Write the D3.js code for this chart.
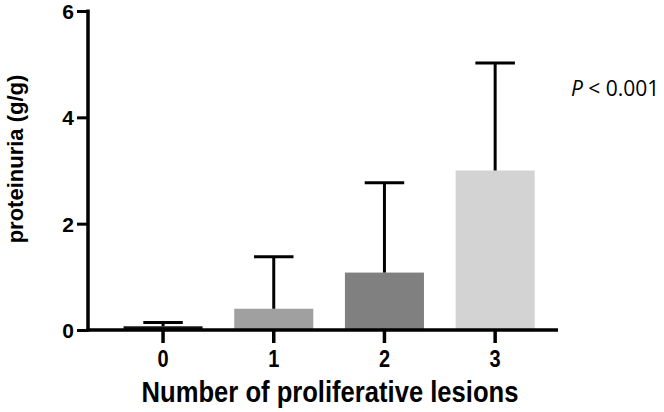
<!DOCTYPE html>
<html><head><meta charset="utf-8">
<script src="https://cdn.jsdelivr.net/npm/d3@7"></script>
<style>body{margin:0;background:#fff}svg{display:block}</style>
</head><body><svg id="c" width="664" height="412"></svg>
<script>
const categories = ["0","1","2","3"];
const means = [0.07, 0.4, 1.08, 3.0];
const errTops = [0.14, 1.38, 2.77, 5.02];
const colors = ["#111111","#a0a0a0","#808080","#d3d3d3"];
const yTicks = [0,2,4,6];

const svg = d3.select("#c");
const font = "'Liberation Sans', Arial, sans-serif";
const stretch = 1.15;
const y = d3.scaleLinear().domain([0,6]).range([330,11]);
const x = d3.scaleBand().domain(categories).range([107.7,550.5]).paddingInner(0.286).paddingOuter(0.143);

// bars
svg.selectAll("rect.bar").data(categories).enter().append("rect")
  .attr("x", d=>x(d)).attr("width", x.bandwidth())
  .attr("y", (d,i)=>y(means[i])).attr("height",(d,i)=>y(0)-y(means[i]))
  .attr("fill",(d,i)=>colors[i]);

// error bars
const cap = x.bandwidth()/2;
const eg = svg.append("g").attr("stroke","#000").attr("stroke-width",3);
categories.forEach((d,i)=>{
  const cx = x(d)+x.bandwidth()/2;
  eg.append("line").attr("x1",cx).attr("x2",cx).attr("y1",y(means[i])).attr("y2",y(errTops[i]));
  eg.append("line").attr("x1",cx-cap/2).attr("x2",cx+cap/2).attr("y1",y(errTops[i])).attr("y2",y(errTops[i]));
});

// y axis
const ya = svg.append("g").attr("transform","translate(88,0)")
  .call(d3.axisLeft(y).tickValues(yTicks).tickSize(11).tickFormat(""));
ya.select(".domain").attr("stroke-width",3.5).attr("d","M0,"+(y(0)+1.5)+"V"+(y(6)-1.5));
ya.selectAll(".tick line").attr("stroke-width",3);
svg.append("g").selectAll("text").data(yTicks).enter().append("text")
  .attr("x",74).attr("y", d=>y(d)+8)
  .attr("text-anchor","end").attr("font-family",font).attr("font-weight","bold").attr("font-size",21)
  .text(d=>d3.format("d")(d));

// x axis
const xa = svg.append("g").attr("transform","translate(0,330)")
  .call(d3.axisBottom(x).tickSize(13).tickFormat(""));
xa.select(".domain").attr("stroke-width",3.5).attr("d","M86.3,0H558");
xa.selectAll(".tick line").attr("stroke-width",3.5);
svg.append("g").selectAll("text").data(categories).enter().append("text")
  .attr("transform", d=>"translate("+(x(d)+x.bandwidth()/2)+",366.5) scale(1,"+stretch+")")
  .attr("text-anchor","middle").attr("font-family",font).attr("font-weight","bold").attr("font-size",20)
  .text(d=>d);

// titles
svg.append("text").attr("transform","translate(330,402) scale(1,"+stretch+")").attr("text-anchor","middle")
  .attr("font-family",font).attr("font-weight","bold").attr("font-size",25.6)
  .text("Number of proliferative lesions");
svg.append("text").attr("transform","translate(23,159) rotate(-90)").attr("text-anchor","middle")
  .attr("font-family",font).attr("font-weight","bold").attr("font-size",22)
  .text("proteinuria (g/g)");

const pt = svg.append("text").attr("x",571).attr("y",96)
  .attr("font-family","'Open Sans', 'Liberation Sans', sans-serif").attr("font-size",21).attr("fill","#000");
pt.append("tspan").attr("font-style","italic").text("P");
pt.append("tspan").text(" < 0.001");
</script></body></html>
